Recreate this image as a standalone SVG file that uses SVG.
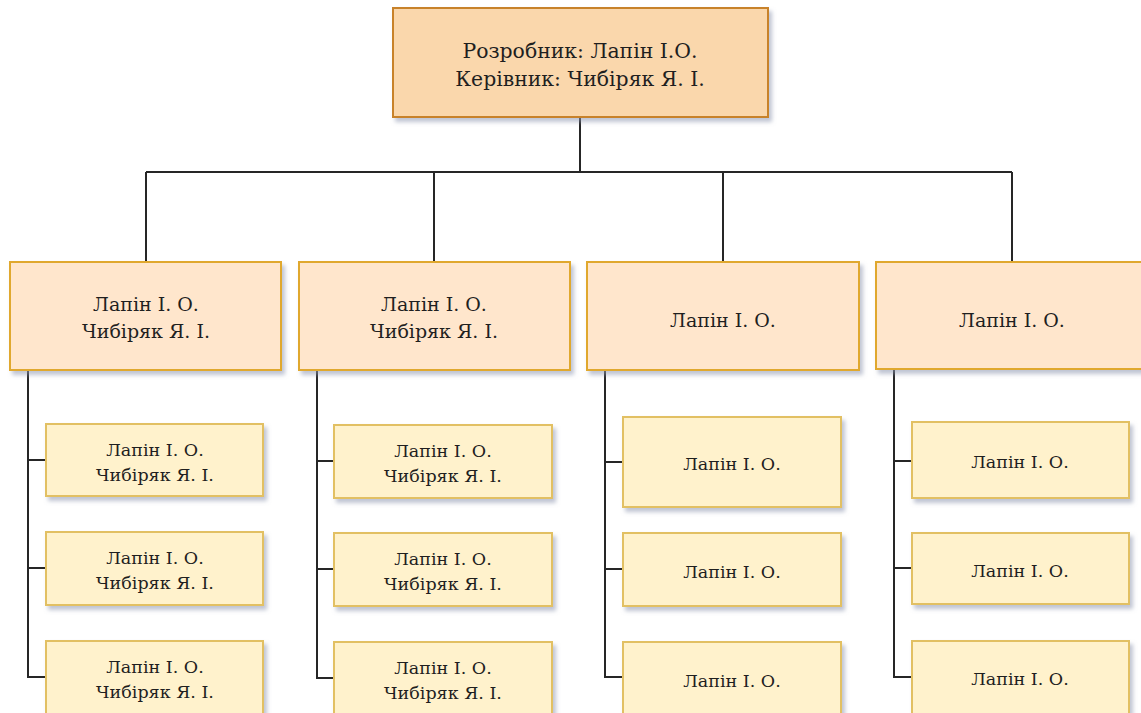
<svg xmlns="http://www.w3.org/2000/svg" width="1141" height="713" viewBox="0 0 1141 713">
<defs>
<filter id="sh" x="-10%" y="-10%" width="130%" height="140%">
<feDropShadow dx="3" dy="4" stdDeviation="2" flood-color="#8a93ad" flood-opacity="0.55"/>
</filter>
<style>
.top{fill:#fad7ac;stroke:#c8822a;stroke-width:2}
.l2{fill:#ffe6cc;stroke:#e0a82e;stroke-width:2}
.l3{fill:#fff2cc;stroke:#e2c064;stroke-width:2}
.c{fill:none;stroke:#262626;stroke-width:2}
text{font-family:"DejaVu Serif","Liberation Serif",serif;font-size:17.5px;fill:#1f1f1f;text-anchor:middle}
.t1{font-size:20.4px}
.t2{font-size:19px}
</style>
</defs>
<rect width="1141" height="713" fill="#ffffff"/>
<g id="connectors">
<path class="c" d="M580,117V172M146,172H1012M146,172V262M434,172V262M723,172V262M1012,172V262"/>
<path class="c" d="M28,370V677H46M28,460H46M28,568H46"/>
<path class="c" d="M317,370V678H334M317,461H334M317,569H334"/>
<path class="c" d="M605,370V677H623M605,462H623M605,569H623"/>
<path class="c" d="M894,369V677H912M894,461H912M894,568H912"/>
</g>
<g id="root"><rect class="top" filter="url(#sh)" x="393" y="8" width="375" height="109"/>
<text class="t1" x="580" y="58">Розробник: Лапін І.О.</text><text class="t1" x="580" y="86">Керівник: Чибіряк Я. І.</text></g>
<g id="n1"><rect class="l2" filter="url(#sh)" x="10" y="262" width="271" height="108"/>
<text class="t2" x="146" y="311">Лапін І. О.</text><text class="t2" x="146" y="338">Чибіряк Я. І.</text></g>
<g id="n2"><rect class="l2" filter="url(#sh)" x="299" y="262" width="271" height="108"/>
<text class="t2" x="434" y="311">Лапін І. О.</text><text class="t2" x="434" y="338">Чибіряк Я. І.</text></g>
<g id="n3"><rect class="l2" filter="url(#sh)" x="587" y="262" width="272" height="108"/>
<text class="t2" x="723" y="327">Лапін І. О.</text></g>
<g id="n4"><rect class="l2" filter="url(#sh)" x="876" y="262" width="272" height="107"/>
<text class="t2" x="1012" y="327">Лапін І. О.</text></g>
<g id="n1a"><rect class="l3" filter="url(#sh)" x="46" y="424" width="217" height="72"/>
<text x="155" y="456">Лапін І. О.</text><text x="155" y="481">Чибіряк Я. І.</text></g>
<g id="n1b"><rect class="l3" filter="url(#sh)" x="46" y="532" width="217" height="73"/>
<text x="155" y="564">Лапін І. О.</text><text x="155" y="589">Чибіряк Я. І.</text></g>
<g id="n1c"><rect class="l3" filter="url(#sh)" x="46" y="641" width="217" height="73"/>
<text x="155" y="673">Лапін І. О.</text><text x="155" y="698">Чибіряк Я. І.</text></g>
<g id="n2a"><rect class="l3" filter="url(#sh)" x="334" y="425" width="218" height="73"/>
<text x="443" y="457">Лапін І. О.</text><text x="443" y="482">Чибіряк Я. І.</text></g>
<g id="n2b"><rect class="l3" filter="url(#sh)" x="334" y="533" width="218" height="73"/>
<text x="443" y="565">Лапін І. О.</text><text x="443" y="590">Чибіряк Я. І.</text></g>
<g id="n2c"><rect class="l3" filter="url(#sh)" x="334" y="642" width="218" height="73"/>
<text x="443" y="674">Лапін І. О.</text><text x="443" y="699">Чибіряк Я. І.</text></g>
<g id="n3a"><rect class="l3" filter="url(#sh)" x="623" y="417" width="218" height="90"/>
<text x="732" y="470">Лапін І. О.</text></g>
<g id="n3b"><rect class="l3" filter="url(#sh)" x="623" y="533" width="218" height="73"/>
<text x="732" y="578">Лапін І. О.</text></g>
<g id="n3c"><rect class="l3" filter="url(#sh)" x="623" y="642" width="218" height="73"/>
<text x="732" y="687">Лапін І. О.</text></g>
<g id="n4a"><rect class="l3" filter="url(#sh)" x="912" y="422" width="217" height="76"/>
<text x="1020" y="468">Лапін І. О.</text></g>
<g id="n4b"><rect class="l3" filter="url(#sh)" x="912" y="533" width="217" height="71"/>
<text x="1020" y="577">Лапін І. О.</text></g>
<g id="n4c"><rect class="l3" filter="url(#sh)" x="912" y="641" width="217" height="73"/>
<text x="1020" y="685">Лапін І. О.</text></g>
</svg>
